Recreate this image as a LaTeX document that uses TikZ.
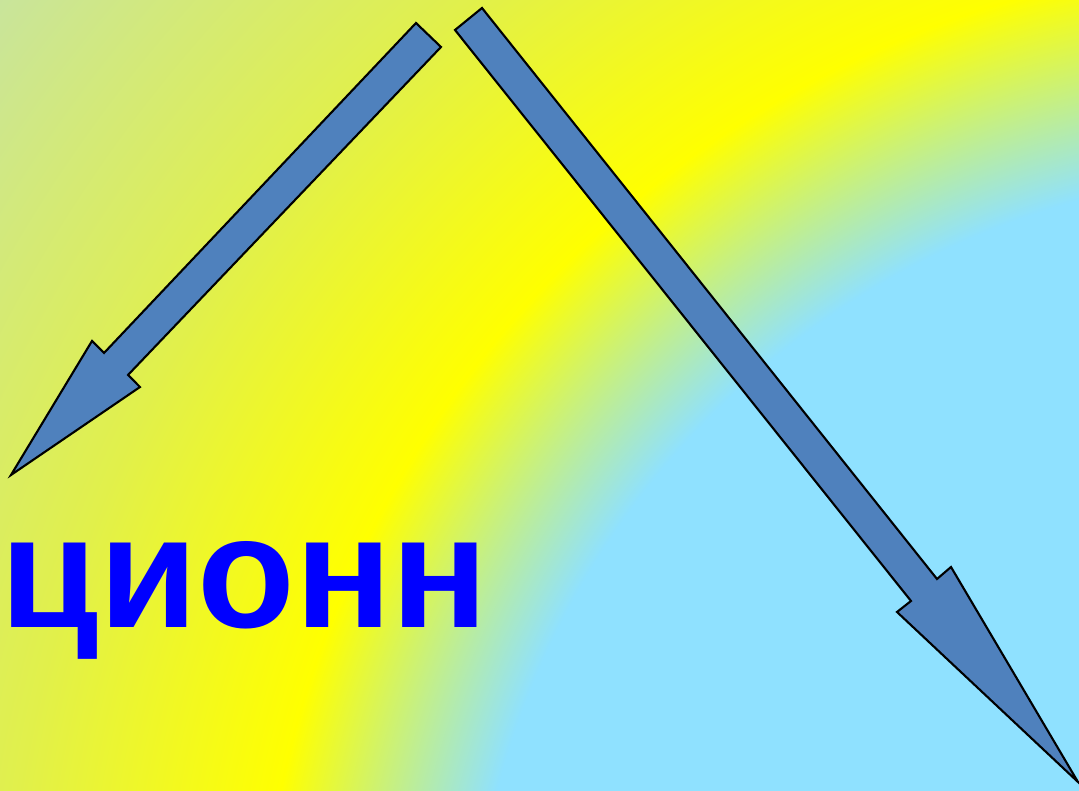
\documentclass[tikz,border=0pt]{standalone}
\usepackage{fontspec}
\setmainfont{Liberation Sans}
\usepackage{xcolor}
\usepackage{tikz}
\usetikzlibrary{positioning}

\definecolor{skyblue}{RGB}{143,225,255}
\definecolor{limey}{RGB}{225,240,75}
\definecolor{sage}{RGB}{200,228,158}
\definecolor{arrowblue}{RGB}{79,129,189}
\definecolor{wordblue}{RGB}{0,0,255}

\pgfdeclareradialshading{rainbowbg}{\pgfpoint{0bp}{0bp}}{%
  color(0bp)=(skyblue); color(12.2bp)=(skyblue); color(15.3bp)=(yellow);
  color(19.1bp)=(limey); color(24.3bp)=(sage); color(50bp)=(sage)}

\tikzset{
  blockarrow/.style={fill=arrowblue, draw=black, line width=0.6pt, line join=miter},
}

\begin{document}
\begin{tikzpicture}[scale=1.0]
\useasboundingbox (0,0) rectangle (10.79,7.91);
% background: rings round the lower right corner
\begin{scope}
  \clip (0,0) rectangle (10.79,7.91);
  \shade[shading=rainbowbg] (-4,-19.09) rectangle (30,14.91);
\end{scope}
% left arrow, pointing down to the left
\draw[blockarrow] (4.16,7.68) -- (4.41,7.44) -- (1.28,4.16) -- (1.40,4.04)
  -- (0.11,3.16) -- (0.92,4.50) -- (1.04,4.38) -- cycle;
% right arrow, pointing down to the right
\draw[blockarrow] (4.82,7.83) -- (9.37,2.12) -- (9.51,2.24) -- (10.78,0.09)
  -- (8.97,1.79) -- (9.11,1.90) -- (4.55,7.61) -- cycle;
% word
\node[anchor=base west, inner sep=0pt, text=wordblue,
  font=\fontsize{45.5}{50}\selectfont\bfseries] (word) at (0.0,1.63) {ционн};
\end{tikzpicture}
\end{document}
